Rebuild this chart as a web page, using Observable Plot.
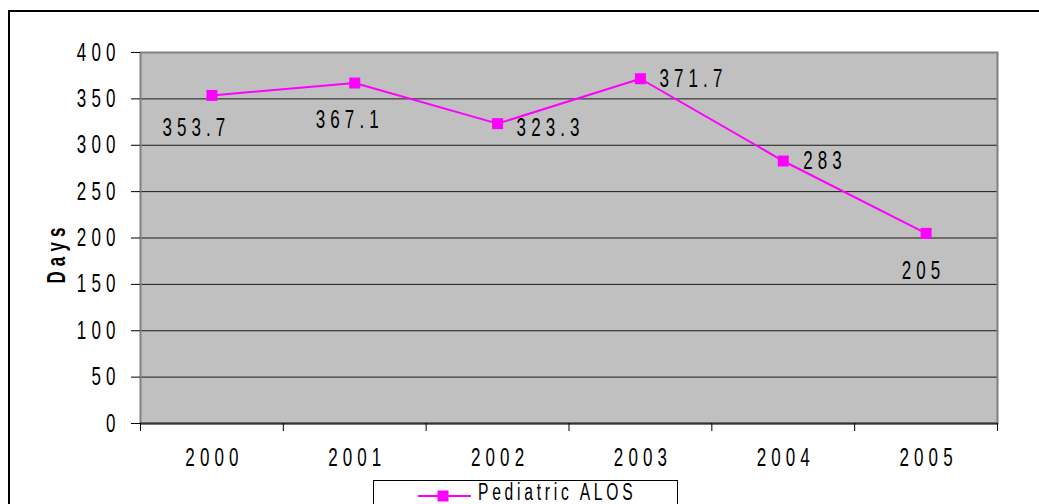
<!DOCTYPE html>
<html><head><meta charset="utf-8">
<script src="https://cdn.jsdelivr.net/npm/d3@7"></script>
<script src="https://cdn.jsdelivr.net/npm/@observablehq/plot@0.6"></script>
<style>
body{margin:0;background:#fff;}
#wrap{position:relative;width:1039px;height:504px;overflow:hidden;font-family:"Liberation Sans",Arial,sans-serif;}
#wrap svg.chart{position:absolute;left:0;top:0;}
#border{position:absolute;left:8px;top:10px;width:1040px;height:500px;border:2px solid #000;box-sizing:border-box;pointer-events:none;}
#legend{position:absolute;left:373px;top:480px;width:305px;height:40px;border:1px solid #000;background:#fff;box-sizing:border-box;}
#legend svg{position:absolute;left:0;top:0;overflow:visible;}
</style></head>
<body><div id="wrap"></div>
<script>
const years = [2000, 2001, 2002, 2003, 2004, 2005];
const alos = [353.7, 367.1, 323.3, 371.7, 283, 205];
const valueLabels = ["353.7", "367.1", "323.3", "371.7", "283", "205"];
const yTicks = [0, 50, 100, 150, 200, 250, 300, 350, 400];
const seriesName = "Pediatric ALOS";
const yTitle = "Days";

// label layout (separate from data)
const labelLayout = [
  {anchor: "middle", dx: -15.5, dy: 32.5},
  {anchor: "middle", dx: -5, dy: 36.5},
  {anchor: "start", dx: 19, dy: 4},
  {anchor: "start", dx: 19, dy: 0},
  {anchor: "start", dx: 20, dy: 0},
  {anchor: "middle", dx: -2.5, dy: 38}
];

const data = years.map((y, i) => ({year: y, value: alos[i], label: valueLabels[i], i}));
const boundaries = [years[0] - 0.5, ...years.map(y => y + 0.5)];
const magenta = "#ff00ff";
const font = '"Liberation Sans",Arial,sans-serif';
const squeeze = 0.68;   // horizontal compression of the narrow chart font
const spacing = 7.5;    // letter spacing before compression

const labelMarks = labelLayout.map((L, i) => Plot.text([data[i]], {
  x: "year", y: "value", text: "label", textAnchor: L.anchor, dx: L.dx, dy: L.dy, fill: "#000"
}));

const chart = Plot.plot({
  width: 1039,
  height: 504,
  marginLeft: 140,
  marginRight: 42,
  marginTop: 52,
  marginBottom: 81,
  style: {fontSize: "25px", fontFamily: font, letterSpacing: spacing + "px", background: "transparent", overflow: "visible"},
  x: {type: "linear", domain: [boundaries[0], boundaries[boundaries.length - 1]]},
  y: {domain: [0, 400]},
  marks: [
    Plot.frame({fill: "#c0c0c0", stroke: null}),
    Plot.ruleY(yTicks.filter(v => v > 0), {stroke: "#1a1a1a", strokeWidth: 1}),
    Plot.frame({stroke: "#808080", strokeWidth: 2, fill: null}),
    Plot.ruleY([0], {stroke: "#333", strokeWidth: 2}),
    Plot.axisY(yTicks, {tickSize: 9, tickPadding: 11, stroke: "#000", fill: "#000", label: null, tickFormat: d => String(d)}),
    Plot.axisX(boundaries, {tickSize: 8, tickPadding: 0, stroke: "#000", tickFormat: () => "", label: null}),
    Plot.axisX(years, {tickSize: 0, tickPadding: 25, dx: 2.5, fill: "#000", tickFormat: d => String(d), label: null}),
    Plot.text([yTitle], {frameAnchor: "left", textAnchor: "middle", dx: -84, dy: 15, rotate: -90, fontWeight: "bold", fill: "#000", letterSpacing: "10px"}),
    Plot.line(data, {x: "year", y: "value", stroke: magenta, strokeWidth: 2}),
    Plot.dot(data, {x: "year", y: "value", symbol: "square", r: 6.2, fill: magenta, stroke: null}),
    ...labelMarks
  ]
});
chart.classList.add("chart");

// compress every text horizontally about its anchor point
chart.querySelectorAll("text").forEach(t => {
  let tr = t.getAttribute("transform");
  if (!tr) {
    const x = +t.getAttribute("x") || 0, y = +t.getAttribute("y") || 0;
    t.removeAttribute("x"); t.removeAttribute("y");
    tr = `translate(${x},${y})`;
  }
  t.setAttribute("transform", tr + ` scale(${squeeze},1)`);
});

const wrap = document.getElementById("wrap");
wrap.appendChild(chart);

const border = document.createElement("div");
border.id = "border";
wrap.appendChild(border);

// legend
const legend = document.createElement("div");
legend.id = "legend";
const lsvg = d3.create("svg").attr("width", 300).attr("height", 30);
lsvg.append("line").attr("x1", 44).attr("x2", 97).attr("y1", 15).attr("y2", 15).attr("stroke", magenta).attr("stroke-width", 2);
lsvg.append("rect").attr("x", 63.5).attr("y", 9.5).attr("width", 11).attr("height", 11).attr("fill", magenta);
lsvg.append("text").attr("transform", `translate(104,19) scale(${squeeze},1)`)
  .attr("font-size", 23).attr("font-family", font).attr("letter-spacing", "5.5px").attr("fill", "#000")
  .text(seriesName);
legend.appendChild(lsvg.node());
wrap.appendChild(legend);
</script>
</body></html>
